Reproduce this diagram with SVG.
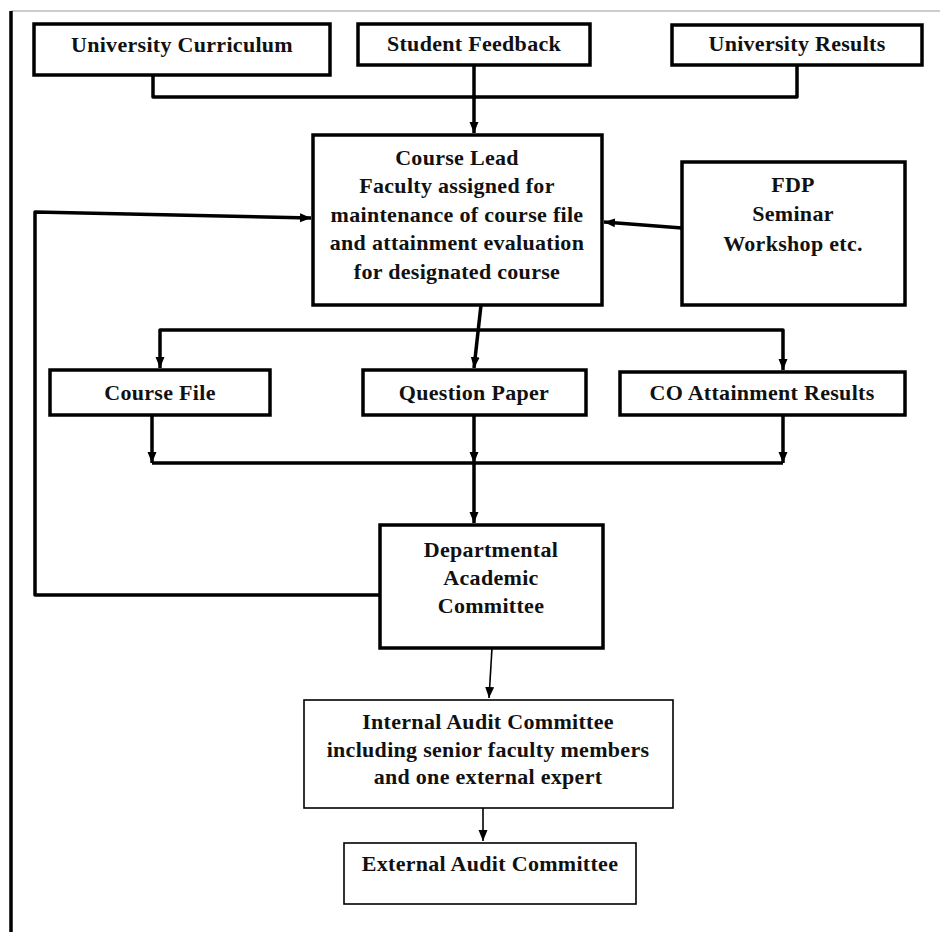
<svg xmlns="http://www.w3.org/2000/svg" width="940" height="932" viewBox="0 0 940 932">
<style>
  .box{fill:#fff;stroke:#000;stroke-width:3.5}
  .thin{fill:#fff;stroke:#000;stroke-width:1.6}
  .t{font-family:"Liberation Serif","Times New Roman",serif;font-weight:bold;font-size:22px;letter-spacing:0.3px;fill:#111;text-anchor:middle}
  .c{fill:none;stroke:#000;stroke-width:3.5;stroke-linejoin:round}
  .ct{fill:none;stroke:#000;stroke-width:1.6}
</style>
<defs>
  <marker id="ah" markerUnits="userSpaceOnUse" markerWidth="12" markerHeight="12" viewBox="0 0 12 12" refX="11" refY="6" orient="auto">
    <path d="M0,1.5 L11,6 L0,10.5 Z" fill="#000"/>
  </marker>
</defs>
<rect width="940" height="932" fill="#fff"/>
<line x1="11" y1="11" x2="940" y2="11" stroke="#999" stroke-width="1.2"/>
<line x1="11" y1="11" x2="11" y2="932" stroke="#000" stroke-width="3.5"/>

<g id="connectors">
  <path class="c" d="M153,75 V97 H797 V65"/>
  <path class="c" d="M474,65 V133" marker-end="url(#ah)"/>
  <path class="c" d="M380,595 H35 V212 L311,218" marker-end="url(#ah)"/>
  <path class="c" d="M682,228 L604,222" marker-end="url(#ah)"/>
  <path class="c" d="M481,305 L474,368" marker-end="url(#ah)"/>
  <path class="c" d="M474,330 H160 V368" marker-end="url(#ah)"/>
  <path class="c" d="M474,330 H783 V370" marker-end="url(#ah)"/>
  <path class="c" d="M152,415 V463" marker-end="url(#ah)"/>
  <path class="c" d="M474,415 V463" marker-end="url(#ah)"/>
  <path class="c" d="M783,415 V463" marker-end="url(#ah)"/>
  <path class="c" d="M152,463 H783"/>
  <path class="c" d="M474,463 V523" marker-end="url(#ah)"/>
  <path class="ct" d="M492,648 L489,698" marker-end="url(#ah)"/>
  <path class="ct" d="M483,808 V841" marker-end="url(#ah)"/>
</g>

<g id="university-curriculum">
  <rect class="box" x="34" y="24" width="296" height="51"/>
  <text class="t" x="182" y="52">University Curriculum</text>
</g>
<g id="student-feedback">
  <rect class="box" x="358" y="24" width="232" height="41"/>
  <text class="t" x="474" y="51">Student Feedback</text>
</g>
<g id="university-results">
  <rect class="box" x="672" y="25" width="250" height="40"/>
  <text class="t" x="797" y="51">University Results</text>
</g>
<g id="course-lead">
  <rect class="box" x="313" y="135" width="289" height="170"/>
  <text class="t" x="457" y="165">Course Lead</text>
  <text class="t" x="457" y="193">Faculty assigned for</text>
  <text class="t" x="457" y="222">maintenance of course file</text>
  <text class="t" x="457" y="250">and attainment evaluation</text>
  <text class="t" x="457" y="279">for designated course</text>
</g>
<g id="fdp">
  <rect class="box" x="682" y="162" width="223" height="143"/>
  <text class="t" x="793" y="192">FDP</text>
  <text class="t" x="793" y="221">Seminar</text>
  <text class="t" x="793" y="251">Workshop etc.</text>
</g>
<g id="course-file">
  <rect class="box" x="50" y="370" width="220" height="45"/>
  <text class="t" x="160" y="400">Course File</text>
</g>
<g id="question-paper">
  <rect class="box" x="363" y="370" width="223" height="45"/>
  <text class="t" x="474" y="400">Question Paper</text>
</g>
<g id="co-attainment">
  <rect class="box" x="620" y="372" width="285" height="43"/>
  <text class="t" x="762" y="400">CO Attainment Results</text>
</g>
<g id="dept-academic-committee">
  <rect class="box" x="380" y="525" width="223" height="123"/>
  <text class="t" x="491" y="557">Departmental</text>
  <text class="t" x="491" y="585">Academic</text>
  <text class="t" x="491" y="613">Committee</text>
</g>
<g id="internal-audit">
  <rect class="thin" x="304" y="700" width="369" height="108"/>
  <text class="t" x="488" y="729">Internal Audit Committee</text>
  <text class="t" x="488" y="757">including senior faculty members</text>
  <text class="t" x="488" y="784">and one external expert</text>
</g>
<g id="external-audit">
  <rect class="thin" x="344" y="843" width="292" height="61"/>
  <text class="t" x="490" y="871">External Audit Committee</text>
</g>
</svg>
